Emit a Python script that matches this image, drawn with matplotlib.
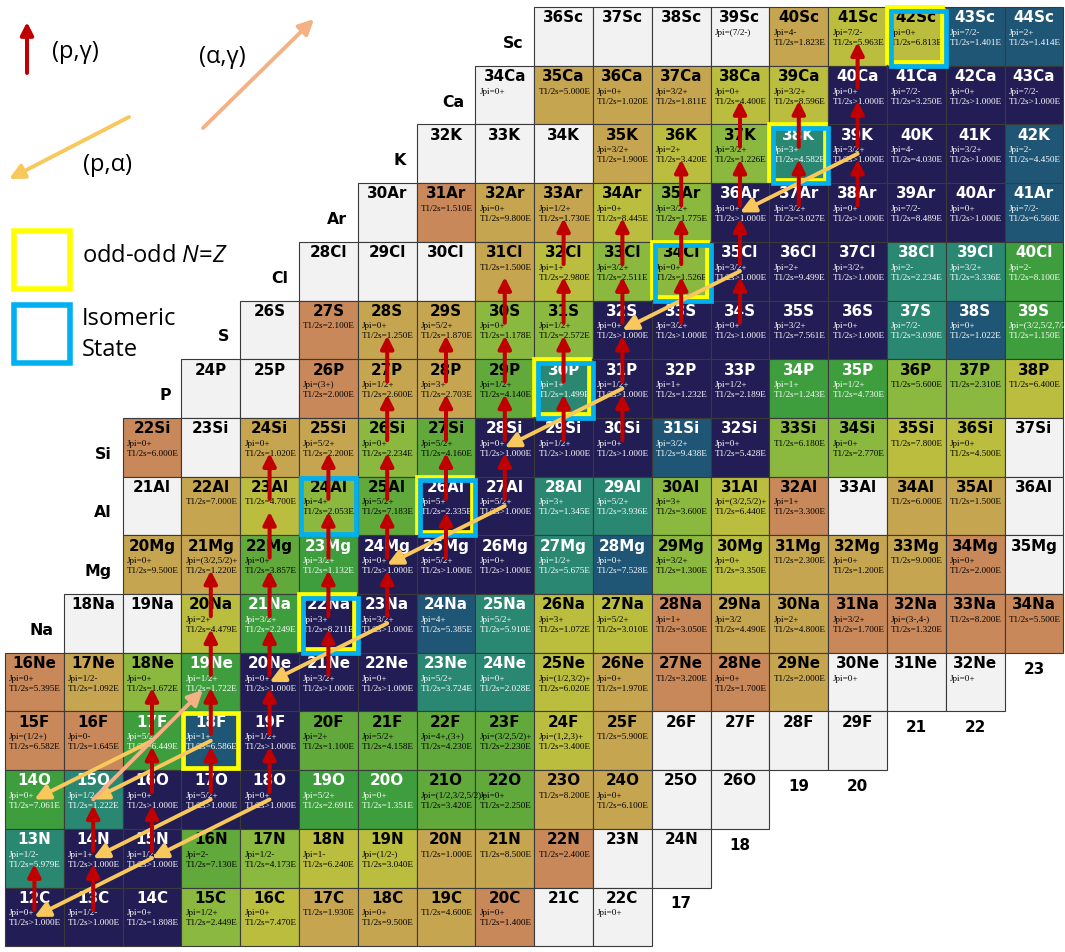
import matplotlib
matplotlib.use("Agg")
import matplotlib.pyplot as plt
from matplotlib.patches import Rectangle, FancyArrowPatch

# ---------------- data ----------------
# each row: (Jpi, T1/2 string, colour code); first entry sits at N0
SC_ROW = [("", "", "w"), ("", "", "w"), ("", "", "w"), ("(7/2-)", "", "w"), ("4-", "1.823E", "k"),
          ("7/2-", "5.963E", "y"), ("0+", "6.813E", "y"), ("7/2-", "1.401E", "T"), ("2+", "1.414E", "T")]
CA_ROW = [("0+", "", "w"), ("", "5.000E", "k"), ("0+", "1.020E", "k"), ("3/2+", "1.811E", "k"),
          ("0+", "4.400E", "y"), ("3/2+", "8.596E", "y"), ("0+", ">1.000E", "n"), ("7/2-", "3.250E", "n"),
          ("0+", ">1.000E", "n"), ("7/2-", ">1.000E", "n")]
K_ROW = [("", "", "w"), ("", "", "w"), ("", "", "w"), ("3/2+", "1.900E", "k"), ("2+", "3.420E", "y"),
         ("3/2+", "1.226E", "l"), ("3+", "4.582E", "t"), ("3/2+", ">1.000E", "n"), ("4-", "4.030E", "n"),
         ("3/2+", ">1.000E", "n"), ("2-", "4.450E", "T")]
AR_ROW = [("", "", "w"), ("", "1.510E", "b"), ("0+", "9.800E", "k"), ("1/2+", "1.730E", "k"),
          ("0+", "8.445E", "y"), ("3/2+", "1.775E", "l"), ("0+", ">1.000E", "n"), ("3/2+", "3.027E", "n"),
          ("0+", ">1.000E", "n"), ("7/2-", "8.489E", "n"), ("0+", ">1.000E", "n"), ("7/2-", "6.560E", "T")]
CL_ROW = [("", "", "w"), ("", "", "w"), ("", "", "w"), ("", "1.500E", "k"), ("1+", "2.980E", "y"),
          ("3/2+", "2.511E", "l"), ("0+", "1.526E", "l"), ("3/2+", ">1.000E", "n"), ("2+", "9.499E", "n"),
          ("3/2+", ">1.000E", "n"), ("2-", "2.234E", "t"), ("3/2+", "3.336E", "t"), ("2-", "8.100E", "G")]
S_ROW = [("", "", "w"), ("", "2.100E", "b"), ("0+", "1.250E", "k"), ("5/2+", "1.870E", "k"),
         ("0+", "1.178E", "l"), ("1/2+", "2.572E", "l"), ("0+", ">1.000E", "n"), ("3/2+", ">1.000E", "n"),
         ("0+", ">1.000E", "n"), ("3/2+", "7.561E", "n"), ("0+", ">1.000E", "n"), ("7/2-", "3.030E", "t"),
         ("0+", "1.022E", "T"), ("(3/2,5/2,7/2)-", "1.150E", "G")]
P_ROW = [("", "", "w"), ("", "", "w"), ("(3+)", "2.000E", "b"), ("1/2+", "2.600E", "k"), ("3+", "2.703E", "k"),
         ("1/2+", "4.140E", "g"), ("1+", "1.499E", "t"), ("1/2+", ">1.000E", "n"), ("1+", "1.232E", "n"),
         ("1/2+", "2.189E", "n"), ("1+", "1.243E", "G"), ("1/2+", "4.730E", "G"), ("", "5.600E", "l"),
         ("", "2.310E", "l"), ("", "6.400E", "y")]
SI_ROW = [("0+", "6.000E", "b"), ("", "", "w"), ("0+", "1.020E", "k"), ("5/2+", "2.200E", "k"),
          ("0+", "2.234E", "l"), ("5/2+", "4.160E", "g"), ("0+", ">1.000E", "n"), ("1/2+", ">1.000E", "n"),
          ("0+", ">1.000E", "n"), ("3/2+", "9.438E", "T"), ("0+", "5.428E", "n"), ("", "6.180E", "l"),
          ("0+", "2.770E", "l"), ("", "7.800E", "y"), ("0+", "4.500E", "y"), ("", "", "w")]
AL_ROW = [("", "", "w"), ("", "7.000E", "k"), ("", "4.700E", "y"), ("4+", "2.053E", "l"), ("5/2+", "7.183E", "g"),
          ("5+", "2.335E", "n"), ("5/2+", ">1.000E", "n"), ("3+", "1.345E", "t"), ("5/2+", "3.936E", "t"),
          ("3+", "3.600E", "l"), ("(3/2,5/2)+", "6.440E", "y"), ("1+", "3.300E", "b"), ("", "", "w"),
          ("", "6.000E", "k"), ("", "1.500E", "k"), ("", "", "w")]
MG_ROW = [("0+", "9.500E", "k"), ("(3/2,5/2)+", "1.220E", "k"), ("0+", "3.857E", "g"), ("3/2+", "1.132E", "G"),
          ("0+", ">1.000E", "n"), ("5/2+", ">1.000E", "n"), ("0+", ">1.000E", "n"), ("1/2+", "5.675E", "t"),
          ("0+", "7.528E", "T"), ("3/2+", "1.300E", "l"), ("0+", "3.350E", "y"), ("", "2.300E", "k"),
          ("0+", "1.200E", "k"), ("", "9.000E", "k"), ("0+", "2.000E", "b"), ("", "", "w")]
NA_ROW = [("", "", "w"), ("", "", "w"), ("2+", "4.479E", "y"), ("3/2+", "2.249E", "G"), ("3+", "8.211E", "n"),
          ("3/2+", ">1.000E", "n"), ("4+", "5.385E", "T"), ("5/2+", "5.910E", "t"), ("3+", "1.072E", "y"),
          ("5/2+", "3.010E", "y"), ("1+", "3.050E", "b"), ("3/2", "4.490E", "k"), ("2+", "4.800E", "k"),
          ("3/2+", "1.700E", "b"), ("(3-,4-)", "1.320E", "b"), ("", "8.200E", "b"), ("", "5.500E", "b")]
NE_ROW = [("0+", "5.395E", "b"), ("1/2-", "1.092E", "k"), ("0+", "1.672E", "l"), ("1/2+", "1.722E", "G"),
          ("0+", ">1.000E", "n"), ("3/2+", ">1.000E", "n"), ("0+", ">1.000E", "n"), ("5/2+", "3.724E", "t"),
          ("0+", "2.028E", "t"), ("(1/2,3/2)+", "6.020E", "y"), ("0+", "1.970E", "k"), ("", "3.200E", "b"),
          ("0+", "1.700E", "b"), ("", "2.000E", "k"), ("0+", "", "w"), ("", "", "w"), ("0+", "", "w")]
F_ROW = [("(1/2+)", "6.582E", "b"), ("0-", "1.645E", "b"), ("5/2+", "6.449E", "G"), ("1+", "6.586E", "T"),
         ("1/2+", ">1.000E", "n"), ("2+", "1.100E", "g"), ("5/2+", "4.158E", "g"), ("4+,(3+)", "4.230E", "g"),
         ("(3/2,5/2)+", "2.230E", "g"), ("(1,2,3)+", "3.400E", "y"), ("", "5.900E", "k"), ("", "", "w"),
         ("", "", "w"), ("", "", "w"), ("", "", "w")]
O_ROW = [("0+", "7.061E", "G"), ("1/2-", "1.222E", "t"), ("0+", ">1.000E", "n"), ("5/2+", ">1.000E", "n"),
         ("0+", ">1.000E", "n"), ("5/2+", "2.691E", "G"), ("0+", "1.351E", "G"), ("(1/2,3/2,5/2)+", "3.420E", "g"),
         ("0+", "2.250E", "g"), ("", "8.200E", "k"), ("0+", "6.100E", "k"), ("", "", "w"), ("", "", "w")]
N_ROW = [("1/2-", "5.979E", "t"), ("1+", ">1.000E", "n"), ("1/2-", ">1.000E", "n"), ("2-", "7.130E", "g"),
         ("1/2-", "4.173E", "l"), ("1-", "6.240E", "y"), ("(1/2-)", "3.040E", "y"), ("", "1.000E", "k"),
         ("", "8.500E", "k"), ("", "2.400E", "b"), ("", "", "w"), ("", "", "w")]
C_ROW = [("0+", ">1.000E", "n"), ("1/2-", ">1.000E", "n"), ("0+", "1.808E", "n"), ("1/2+", "2.449E", "l"),
         ("0+", "7.470E", "y"), ("", "1.930E", "k"), ("0+", "9.500E", "k"), ("", "4.600E", "k"),
         ("0+", "1.400E", "b"), ("", "", "w"), ("0+", "", "w")]

# (symbol, Z, first N, row data)
ELEMENTS = [("Sc", 21, 15, SC_ROW), ("Ca", 20, 14, CA_ROW), ("K", 19, 13, K_ROW), ("Ar", 18, 12, AR_ROW),
            ("Cl", 17, 11, CL_ROW), ("S", 16, 10, S_ROW), ("P", 15, 9, P_ROW), ("Si", 14, 8, SI_ROW),
            ("Al", 13, 8, AL_ROW), ("Mg", 12, 8, MG_ROW), ("Na", 11, 7, NA_ROW), ("Ne", 10, 6, NE_ROW),
            ("F", 9, 6, F_ROW), ("O", 8, 6, O_ROW), ("N", 7, 6, N_ROW), ("C", 6, 6, C_ROW)]

# neutron-number labels: (label, N, Z)
N_LABELS = [("17", 17, 6), ("18", 18, 7), ("19", 19, 8), ("20", 20, 8), ("21", 21, 9), ("22", 22, 9), ("23", 23, 10)]

# (p,gamma) sources (Z, N)
PG_SOURCES = [(6, 6), (6, 7), (7, 7), (7, 8), (8, 8), (9, 8),
              (8, 9), (9, 9), (10, 9), (11, 9),
              (8, 10), (9, 10), (10, 10), (11, 10), (12, 10), (13, 10),
              (10, 11), (11, 11), (12, 11), (13, 11),
              (11, 12), (12, 12), (13, 12), (14, 12), (15, 12),
              (12, 13), (13, 13), (14, 13), (15, 13),
              (13, 14), (14, 14), (15, 14), (16, 14),
              (14, 15), (15, 15), (16, 15), (17, 15),
              (14, 16), (15, 16), (16, 16), (17, 16),
              (16, 17), (17, 17), (18, 17),
              (16, 18), (17, 18), (18, 18), (19, 18),
              (18, 19), (19, 19),
              (18, 20), (19, 20), (20, 20)]
# (p,alpha) sources (Z, N)
PA_SOURCES = [(7, 8), (8, 9), (8, 10), (9, 8), (9, 9), (11, 12), (13, 14), (15, 16), (17, 18), (19, 20)]
# (alpha,gamma) sources (Z, N)
AG_SOURCES = [(8, 7)]

ODD_ODD = [(9, 9), (11, 11), (13, 13), (15, 15), (17, 17), (19, 19), (21, 21)]
ISOMERIC = [(11, 11), (13, 11), (13, 13), (15, 15), (17, 17), (19, 19), (21, 21)]

COLORS = {"w": "#f2f2f2", "b": "#c8885a", "k": "#c6a551", "y": "#bbbd3e", "l": "#8bb83e",
          "g": "#62a93c", "G": "#3e9e3e", "t": "#2a8872", "T": "#1f5575", "n": "#221d55"}
DARK = set("nTtG")

# ---------------- figure ----------------
W, H = 1065, 952
fig = plt.figure(figsize=(W / 100, H / 100), dpi=100)
ax = fig.add_axes([0, 0, 1, 1])
cw, ch = 58.8, 58.7
ax.set_xlim(5.5 - 5 / cw, 5.5 + (W - 5) / cw)
ax.set_ylim(21.5 - (H - 7) / ch, 21.5 + 7 / ch)
ax.axis("off")

NAME_FONT = dict(family="DejaVu Sans", fontweight="bold", fontsize=10.9)
SMALL_FONT = dict(family="Liberation Serif", fontsize=6.6)

for sym, Z, N0, row in ELEMENTS:
    ax.text(N0 - 0.5 - 0.18, Z - 0.12, sym, ha="right", va="center", color="black",
            zorder=3, **dict(NAME_FONT, fontsize=11.3))
    for i, (jpi, t, c) in enumerate(row):
        N = N0 + i
        rect = Rectangle((N - 0.5, Z - 0.5), 1, 1, facecolor=COLORS[c],
                         edgecolor="#3a3a3a", lw=0.8, zorder=1)
        ax.add_patch(rect)
        fg = "white" if c in DARK else "black"
        ax.text(N, Z + 0.315, f"{Z + N}{sym}", ha="center", va="center", color=fg,
                zorder=3, **NAME_FONT)
        lines = []
        if jpi:
            lines.append("Jpi=" + jpi)
        if t:
            lines.append("T1/2s" + (t if t.startswith(">") else "=" + t))
        for k, s in enumerate(lines):
            tx = ax.text(N - 0.5 + 0.07, Z + 0.06 - 0.17 * k, s, ha="left", va="center",
                         color=fg, zorder=3, **SMALL_FONT)
            tx.set_clip_path(rect)

for lab, N, Z in N_LABELS:
    ax.text(N, Z + 0.22, lab, ha="center", va="center", color="black", zorder=3, **NAME_FONT)

# boxes
def box(Z, N, color, dx, dy):
    ax.add_patch(Rectangle((N - 0.47 + dx, Z - 0.47 + dy), 0.94, 0.94, facecolor="none",
                           edgecolor=color, lw=3.4, zorder=4))

for (Z, N) in ODD_ODD:
    both = (Z, N) in ISOMERIC
    box(Z, N, "#ffff00", -0.03 if both else 0, 0.03 if both else 0)
for (Z, N) in ISOMERIC:
    both = (Z, N) in ODD_ODD
    box(Z, N, "#00b0f0", 0.03 if both else 0, -0.03 if both else 0)

# (p,alpha) arrows
for (Z, N) in PA_SOURCES:
    ax.add_patch(FancyArrowPatch((N, Z), (N - 2, Z - 1),
                                 arrowstyle="-|>,head_length=0.9,head_width=0.45",
                                 mutation_scale=10, color="#f9c85c", lw=2.8,
                                 shrinkA=0, shrinkB=0, zorder=5))
# (alpha,gamma) arrows
for (Z, N) in AG_SOURCES:
    ax.add_patch(FancyArrowPatch((N, Z), (N + 2, Z + 2),
                                 arrowstyle="-|>,head_length=0.9,head_width=0.45",
                                 mutation_scale=10, color="#f4b183", lw=2.8,
                                 shrinkA=0, shrinkB=8, zorder=5))
# (p,gamma) arrows
for (Z, N) in PG_SOURCES:
    ax.add_patch(FancyArrowPatch((N, Z + 0.12), (N, Z + 0.9),
                                 arrowstyle="-|>,head_length=0.75,head_width=0.38",
                                 mutation_scale=10, color="#c00000", lw=2.9,
                                 shrinkA=0, shrinkB=0, zorder=6))

# ---------------- legend (pixel overlay) ----------------
plt.rcParams["mathtext.fontset"] = "custom"
plt.rcParams["mathtext.rm"] = "Open Sans"
plt.rcParams["mathtext.it"] = "Open Sans:italic"
lx = fig.add_axes([0, 0, 1, 1], facecolor="none")
lx.set_xlim(0, W)
lx.set_ylim(H, 0)
lx.axis("off")
LEG_FONT = dict(family=["Open Sans", "DejaVu Sans"], fontsize=17, color="black")

lx.add_patch(FancyArrowPatch((27, 73), (27, 22), arrowstyle="-|>,head_length=0.75,head_width=0.38",
                             mutation_scale=10, color="#c00000", lw=2.9, shrinkA=0, shrinkB=0))
lx.text(75, 52, "(p,γ)", ha="center", va="center", **LEG_FONT)
lx.add_patch(FancyArrowPatch((203, 128), (314, 19), arrowstyle="-|>,head_length=0.9,head_width=0.45",
                             mutation_scale=10, color="#f4b183", lw=2.8, shrinkA=0, shrinkB=0))
lx.text(222, 57, "(α,γ)", ha="center", va="center", **LEG_FONT)
lx.add_patch(FancyArrowPatch((129, 117), (9, 179), arrowstyle="-|>,head_length=0.9,head_width=0.45",
                             mutation_scale=10, color="#f9c85c", lw=2.8, shrinkA=0, shrinkB=0))
lx.text(108, 165, "(p,α)", ha="center", va="center", **LEG_FONT)

lx.add_patch(Rectangle((14, 231), 56, 58, facecolor="none", edgecolor="#ffff00", lw=4))
lx.add_patch(Rectangle((14, 305), 56, 58, facecolor="none", edgecolor="#00b0f0", lw=4))
lx.text(82, 256, "odd-odd $N$=$Z$", ha="left", va="center", **LEG_FONT)
lx.text(82, 319, "Isomeric", ha="left", va="center", **LEG_FONT)
lx.text(82, 350, "State", ha="left", va="center", **LEG_FONT)

fig.savefig("out.png", dpi=100, facecolor="white")
